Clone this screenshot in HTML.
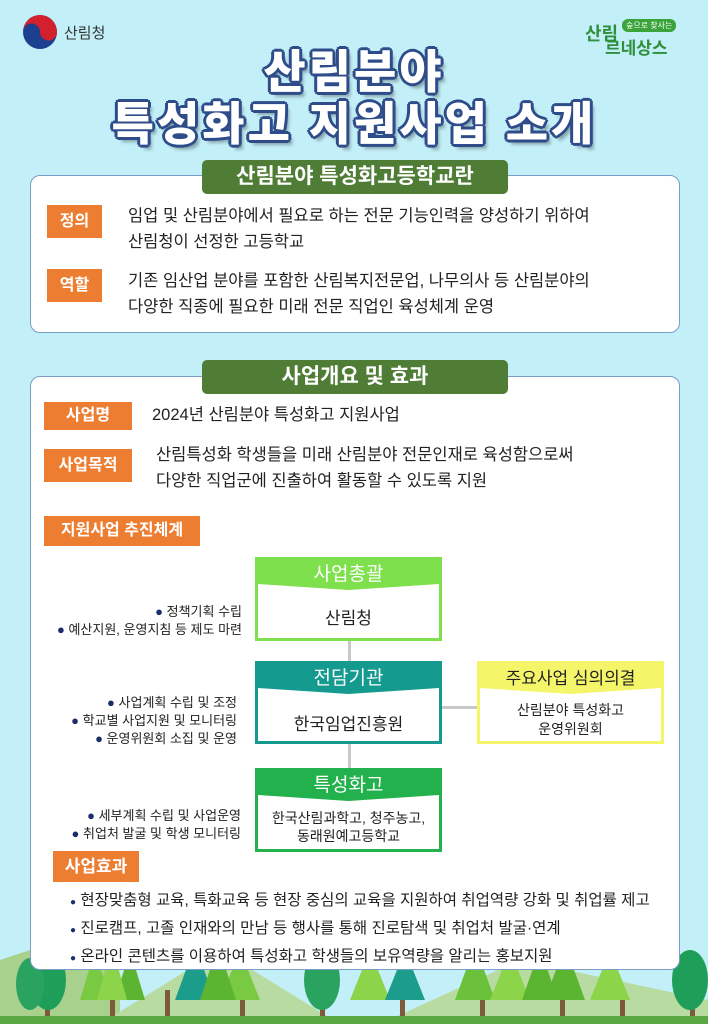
<!DOCTYPE html>
<html><head><meta charset="utf-8"><style>
*{margin:0;padding:0;box-sizing:border-box}
body{width:708px;height:1024px;background:#c3eff8;position:relative;overflow:hidden;font-family:"Liberation Sans","Noto Sans CJK KR",sans-serif;color:#222}
.a{position:absolute}
.panel{position:absolute;left:30px;width:650px;background:#fff;border:1.5px solid #7a9cc8;border-radius:10px}
.pill{position:absolute;left:202px;width:306px;height:34px;background:#4f7d36;color:#fff;border-radius:5px;font-size:21px;font-weight:bold;text-align:center;line-height:34px}
.lab{position:absolute;background:#ec7d31;color:#fff;font-weight:bold;font-size:16px;text-align:center}
.t{position:absolute;font-size:16.5px;line-height:26px;color:#222;white-space:nowrap}
.box{position:absolute;left:255px;width:187px;background:#fff}
.hd{height:30px;color:#fff;font-size:19px;text-align:center;line-height:30px}
.bd{text-align:center;font-size:16px;color:#222}
.b{position:absolute;font-size:13px;line-height:18px;text-align:right;color:#222;white-space:nowrap}
.dot{color:#1c2e6a}
.title{position:absolute;left:0;width:708px;text-align:center;font-weight:900;color:#fff;font-size:46px;letter-spacing:3px;text-shadow:-2px -2px 0 #2f4c8a,2px -2px 0 #2f4c8a,-2px 2px 0 #2f4c8a,2px 2px 0 #2f4c8a,0 3px 0 #2f4c8a,3px 0 0 #2f4c8a,-3px 0 0 #2f4c8a,0 -3px 0 #2f4c8a,4px 5px 3px rgba(0,0,0,.3)}
</style></head><body>
<svg class="a" style="left:0;top:940px" width="708" height="84">
<polygon points="0,20 60,0 120,40 120,84 0,84" fill="#a9d18e"/>
<polygon points="100,84 220,10 340,84" fill="#b7dba0"/>
<polygon points="380,84 520,20 708,60 708,84" fill="#b7dba0"/>
<g fill="#7d5a3a"><rect x="45" y="50" width="5" height="34"/><rect x="110" y="50" width="5" height="34"/><rect x="165" y="50" width="5" height="34"/><rect x="240" y="50" width="5" height="34"/><rect x="320" y="50" width="5" height="34"/><rect x="400" y="50" width="5" height="34"/><rect x="480" y="50" width="5" height="34"/><rect x="560" y="50" width="5" height="34"/><rect x="620" y="50" width="5" height="34"/><rect x="690" y="50" width="5" height="34"/></g>
<ellipse cx="48" cy="40" rx="18" ry="30" fill="#1f9e5a"/><ellipse cx="30" cy="44" rx="14" ry="26" fill="#2ba360"/>
<polygon points="95,10 110,60 80,60" fill="#7ac943"/><polygon points="130,10 145,60 115,60" fill="#5cb531"/><polygon points="112,5 127,60 97,60" fill="#8cd44a"/>
<polygon points="195,5 215,60 175,60" fill="#1c9d8c"/><polygon points="240,10 260,60 220,60" fill="#7ac943"/><polygon points="218,5 236,60 200,60" fill="#5cb531"/>
<ellipse cx="322" cy="40" rx="18" ry="30" fill="#2ba360"/>
<polygon points="370,10 390,60 350,60" fill="#8cd44a"/><polygon points="405,10 425,60 385,60" fill="#1c9d8c"/>
<polygon points="475,5 495,60 455,60" fill="#6cc13a"/><polygon points="510,10 530,60 490,60" fill="#8cd44a"/><polygon points="540,8 558,60 522,60" fill="#5cb531"/>
<polygon points="565,5 585,60 545,60" fill="#5cb531"/><polygon points="610,10 630,60 590,60" fill="#8cd44a"/>
<ellipse cx="690" cy="40" rx="18" ry="30" fill="#1f9e5a"/>
<rect x="0" y="76" width="708" height="8" fill="#5aa844"/>
</svg>
<svg class="a" style="left:22px;top:14px" width="36" height="36"><circle cx="18" cy="18" r="17" fill="#1d3f8f"/><path d="M1,18 A17,17 0 0 1 35,18 A8.5,8.5 0 0 1 18,18 A8.5,8.5 0 0 0 1,18Z" fill="#d3202f"/></svg>
<div class="a" style="left:64px;top:22px;font-size:15px;color:#333">산림청</div>
<div class="a" style="left:585px;top:20px;font-size:18px;font-weight:bold;color:#2f8f3a">산림</div>
<div class="a" style="left:622px;top:19px;background:#3aa43a;color:#fff;font-size:8px;border-radius:6px;padding:1px 4px">숲으로 찾사는</div>
<div class="a" style="left:605px;top:34px;font-size:17px;font-weight:bold;color:#2f8f3a">르네상스</div>
<div class="title" style="top:36px">산림분야</div>
<div class="title" style="top:88px">특성화고 지원사업 소개</div>

<div class="panel" style="top:175px;height:158px"></div>
<div class="pill" style="top:160px">산림분야 특성화고등학교란</div>
<div class="lab" style="left:47px;top:205px;width:55px;height:33px;line-height:33px">정의</div>
<div class="t" style="left:128px;top:203px">임업 및 산림분야에서 필요로 하는 전문 기능인력을 양성하기 위하여<br>산림청이 선정한 고등학교</div>
<div class="lab" style="left:47px;top:269px;width:55px;height:33px;line-height:33px">역할</div>
<div class="t" style="left:128px;top:268px">기존 임산업 분야를 포함한 산림복지전문업, 나무의사 등 산림분야의<br>다양한 직종에 필요한 미래 전문 직업인 육성체계 운영</div>

<div class="panel" style="top:376px;height:594px"></div>
<div class="pill" style="top:360px">사업개요 및 효과</div>
<div class="lab" style="left:44px;top:402px;width:88px;height:28px;line-height:28px">사업명</div>
<div class="t" style="left:152px;top:402px">2024년 산림분야 특성화고 지원사업</div>
<div class="lab" style="left:44px;top:449px;width:88px;height:33px;line-height:33px">사업목적</div>
<div class="t" style="left:156px;top:442px">산림특성화 학생들을 미래 산림분야 전문인재로 육성함으로써<br>다양한 직업군에 진출하여 활동할 수 있도록 지원</div>
<div class="lab" style="left:44px;top:516px;width:156px;height:30px;line-height:30px">지원사업 추진체계</div>

<div class="a" style="left:348px;top:640px;width:3px;height:130px;background:#c8c8c8"></div>
<div class="a" style="left:442px;top:706px;width:36px;height:3px;background:#c8c8c8"></div>

<div class="box" style="top:557px;height:84px;border:3px solid #7fe04d"><div class="hd" style="background:#7fe04d;clip-path:polygon(0 0,100% 0,100% 80%,50% 100%,0 80%)">사업총괄</div><div class="bd" style="margin-top:14px;font-size:17px">산림청</div></div>
<div class="box" style="top:661px;height:83px;border:3px solid #149a8f"><div class="hd" style="background:#149a8f;clip-path:polygon(0 0,100% 0,100% 80%,50% 100%,0 80%)">전담기관</div><div class="bd" style="margin-top:16px;font-size:17px">한국임업진흥원</div></div>
<div class="box" style="top:768px;height:84px;border:3px solid #22b14c"><div class="hd" style="background:#22b14c;clip-path:polygon(0 0,100% 0,100% 80%,50% 100%,0 80%)">특성화고</div><div class="bd" style="margin-top:8px;font-size:14px;line-height:18px">한국산림과학고, 청주농고,<br>동래원예고등학교</div></div>
<div class="box" style="left:477px;top:661px;height:83px;border:3px solid #f5f56a"><div class="hd" style="background:#f5f56a;color:#222;font-size:17px;clip-path:polygon(0 0,100% 0,100% 80%,50% 100%,0 80%)">주요사업 심의의결</div><div class="bd" style="margin-top:7px;font-size:14px;line-height:19px">산림분야 특성화고<br>운영위원회</div></div>

<div class="b" style="right:466px;top:603px"><span class="dot">●</span> 정책기획 수립<br><span class="dot">●</span> 예산지원, 운영지침 등 제도 마련</div>
<div class="b" style="right:471px;top:694px"><span class="dot">●</span> 사업계획 수립 및 조정<br><span class="dot">●</span> 학교별 사업지원 및 모니터링<br><span class="dot">●</span> 운영위원회 소집 및 운영</div>
<div class="b" style="right:467px;top:807px"><span class="dot">●</span> 세부계획 수립 및 사업운영<br><span class="dot">●</span> 취업처 발굴 및 학생 모니터링</div>

<div class="lab" style="left:53px;top:851px;width:86px;height:31px;line-height:31px;font-size:17px">사업효과</div>
<div class="t" style="left:70px;top:888px;font-size:15.5px;line-height:26px"><span class="dot" style="font-size:10px">●</span> 현장맞춤형 교육, 특화교육 등 현장 중심의 교육을 지원하여 취업역량 강화 및 취업률 제고<br><span class="dot" style="font-size:10px">●</span> 진로캠프, 고졸 인재와의 만남 등 행사를 통해 진로탐색 및 취업처 발굴·연계<br><span class="dot" style="font-size:10px">●</span> 온라인 콘텐츠를 이용하여 특성화고 학생들의 보유역량을 알리는 홍보지원</div>
</body></html>
